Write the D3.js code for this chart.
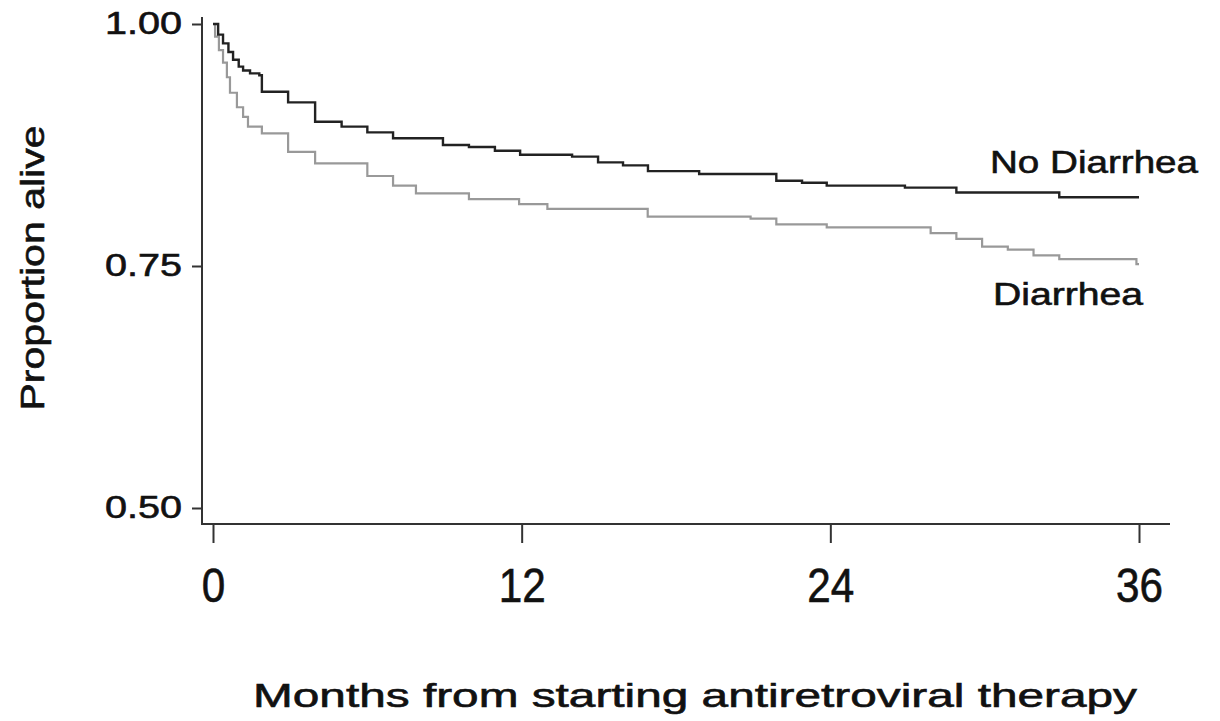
<!DOCTYPE html>
<html>
<head>
<meta charset="utf-8">
<script src="https://cdn.jsdelivr.net/npm/d3@7"></script>
<style>
  body { margin: 0; background: #fff; }
  text { font-family: "Liberation Sans", Arial, sans-serif; fill: #111; stroke: #111; stroke-width: 0.6px; }
</style>
</head>
<body>
<div id="chart"></div>
<script>
// months from starting ART, survival
var noDiarrheaTime = [0, 0.2, 0.39, 0.6, 0.78, 1.0, 1.17, 1.44, 1.8, 1.9, 2.92, 3.97, 5.0, 6.0, 7.0, 8.94, 9.95, 10.96, 11.94, 13.96, 14.97, 15.94, 16.91, 18.9, 21.9, 22.9, 23.86, 26.9, 28.9, 32.9, 36];
var noDiarrheaSurv = [1.0, 0.989, 0.980, 0.971, 0.963, 0.956, 0.952, 0.949, 0.947, 0.930, 0.919, 0.899, 0.894, 0.888, 0.882, 0.875, 0.873, 0.869, 0.865, 0.863, 0.857, 0.854, 0.848, 0.845, 0.838, 0.836, 0.833, 0.831, 0.826, 0.821, 0.821];

var diarrheaTime = [0, 0.08, 0.23, 0.39, 0.54, 0.66, 0.93, 1.17, 1.36, 1.9, 2.92, 3.97, 6.0, 7.0, 7.89, 9.95, 11.9, 13.0, 16.9, 20.9, 21.9, 23.86, 27.9, 28.9, 29.9, 30.9, 31.9, 32.9, 35.9, 36];
var diarrheaSurv = [1.0, 0.987, 0.973, 0.960, 0.945, 0.929, 0.914, 0.904, 0.894, 0.887, 0.868, 0.856, 0.843, 0.833, 0.825, 0.819, 0.814, 0.809, 0.801, 0.799, 0.793, 0.790, 0.784, 0.778, 0.770, 0.767, 0.761, 0.757, 0.752, 0.752];

var xTicks = [0, 12, 24, 36];
var yTicks = [0.50, 0.75, 1.00];

function zip(t, s) {
    return t.map(function(d, i) { return {t: d, s: s[i]}; });
}

var width = 1220, height = 721;

var svg = d3.select("#chart").append("svg")
    .attr("width", width)
    .attr("height", height);

// set the ranges
var x = d3.scaleLinear().domain([0, 36]).range([213, 1139]);
var y = d3.scaleLinear().domain([0.5, 1]).range([508, 24]);

// axis lines (offset past the data range, like the original)
svg.append("line")
    .attr("x1", 202).attr("x2", 202)
    .attr("y1", 17).attr("y2", 525)
    .attr("stroke", "#333").attr("stroke-width", 2);
svg.append("line")
    .attr("x1", 201).attr("x2", 1170)
    .attr("y1", 524).attr("y2", 524)
    .attr("stroke", "#333").attr("stroke-width", 2);

// y axis
var gy = svg.append("g")
    .attr("transform", "translate(202,0)")
    .call(d3.axisLeft(y).tickValues(yTicks).tickFormat(d3.format(".2f"))
        .tickSize(10).tickPadding(10));
gy.select(".domain").remove();
gy.selectAll(".tick line").attr("stroke", "#333").attr("stroke-width", 2);
gy.selectAll(".tick text")
    .style("font-size", "31px")
    .attr("fill", "#111")
    .attr("textLength", 77)
    .attr("lengthAdjust", "spacingAndGlyphs");

// x axis
var gx = svg.append("g")
    .attr("transform", "translate(0,524)")
    .call(d3.axisBottom(x).tickValues(xTicks).tickSize(19).tickPadding(25));
gx.select(".domain").remove();
gx.selectAll(".tick line").attr("stroke", "#333").attr("stroke-width", 2);
gx.selectAll(".tick text")
    .style("font-size", "48px")
    .attr("fill", "#111")
    .attr("textLength", function(d) { return String(d).length * 23.5; })
    .attr("lengthAdjust", "spacingAndGlyphs");

// survival curves
var line = d3.line()
    .x(function(d) { return x(d.t); })
    .y(function(d) { return y(d.s); })
    .curve(d3.curveStepAfter);

svg.append("path")
    .datum(zip(diarrheaTime, diarrheaSurv))
    .attr("fill", "none")
    .attr("stroke", "#999")
    .attr("stroke-width", 2.2)
    .attr("d", line);

svg.append("path")
    .datum(zip(noDiarrheaTime, noDiarrheaSurv))
    .attr("fill", "none")
    .attr("stroke", "#222")
    .attr("stroke-width", 2.4)
    .attr("d", line);

// curve labels
svg.append("text")
    .attr("x", 990).attr("y", 173)
    .style("font-size", "32px")
    .attr("textLength", 208)
    .attr("lengthAdjust", "spacingAndGlyphs")
    .text("No Diarrhea");

svg.append("text")
    .attr("x", 993).attr("y", 305)
    .style("font-size", "32px")
    .attr("textLength", 150)
    .attr("lengthAdjust", "spacingAndGlyphs")
    .text("Diarrhea");

// axis titles
svg.append("text")
    .attr("text-anchor", "middle")
    .attr("transform", "translate(44,268) rotate(-90)")
    .style("font-size", "34px")
    .attr("textLength", 285)
    .attr("lengthAdjust", "spacingAndGlyphs")
    .text("Proportion alive");

svg.append("text")
    .attr("text-anchor", "middle")
    .attr("x", 695).attr("y", 707)
    .style("font-size", "33px")
    .attr("textLength", 884)
    .attr("lengthAdjust", "spacingAndGlyphs")
    .text("Months from starting antiretroviral therapy");
</script>
</body>
</html>
